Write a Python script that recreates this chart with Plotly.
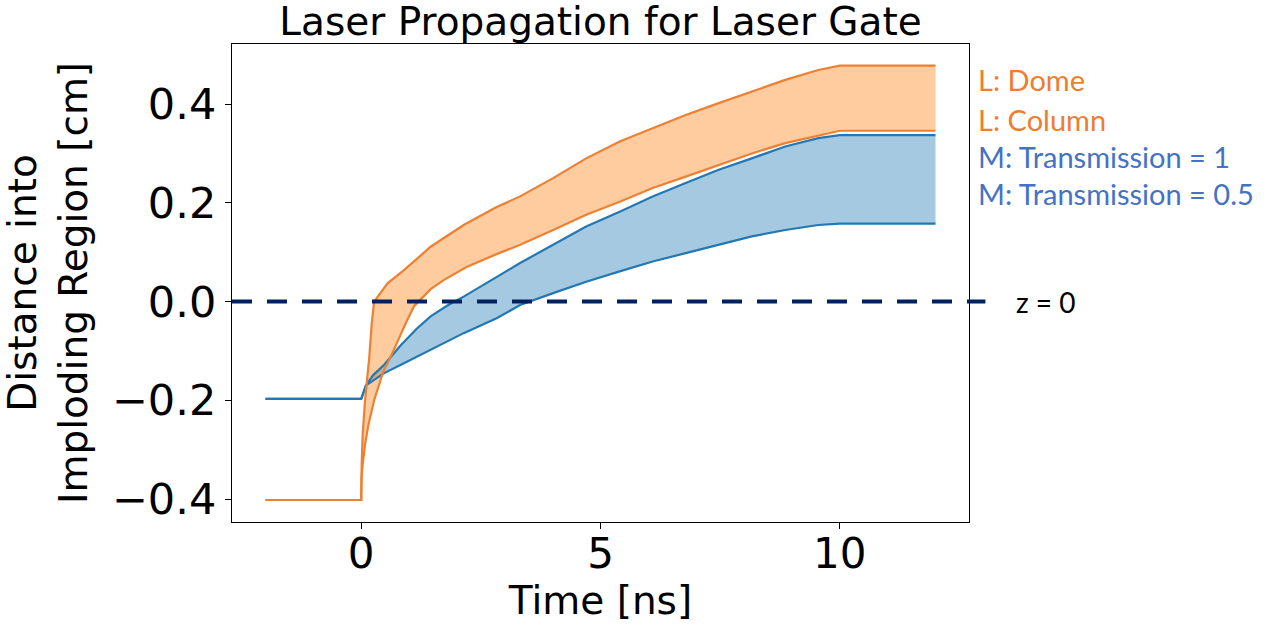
import numpy as np
import plotly.graph_objects as go

# ---- data ----
t_dome = [-2, 0, 0.01, 0.03, 0.08, 0.17, 0.22, 0.27, 0.55, 0.9, 1.45, 2.14, 2.8, 3.32,
          4.01, 4.70, 5.40, 6.09, 6.78, 7.47, 8.16, 8.86, 9.55, 10, 12]
y_dome = [-0.402, -0.402, -0.33, -0.27, -0.20, -0.111, -0.044, 0.0, 0.037, 0.064, 0.111,
          0.155, 0.19, 0.213, 0.250, 0.290, 0.324, 0.351, 0.378, 0.402, 0.425, 0.449,
          0.469, 0.478, 0.478]

t_col = [-2, 0, 0.005, 0.03, 0.08, 0.15, 0.27, 0.45, 0.62, 0.8, 0.93, 1.1, 1.2, 1.45,
         1.73, 2.2, 2.8, 3.32, 4.01, 4.70, 5.40, 6.09, 6.78, 7.47, 8.16, 8.86, 9.55, 10, 12]
y_col = [-0.402, -0.402, -0.36, -0.33, -0.29, -0.25, -0.20, -0.145, -0.111, -0.07, -0.044,
         -0.01, 0.0, 0.025, 0.044, 0.07, 0.095, 0.115, 0.145, 0.176, 0.202, 0.230, 0.253,
         0.277, 0.300, 0.321, 0.337, 0.346, 0.346]

t_m1 = [-2, 0, 0.1, 0.25, 0.48, 0.83, 1.17, 1.45, 1.8, 2.14, 2.8, 3.32, 4.01, 4.70,
        5.40, 6.09, 6.78, 7.47, 8.16, 8.86, 9.55, 10, 12]
y_m1 = [-0.197, -0.197, -0.170, -0.149, -0.128, -0.088, -0.054, -0.030, -0.008, 0.010,
        0.048, 0.078, 0.115, 0.152, 0.182, 0.213, 0.240, 0.267, 0.290, 0.314, 0.331,
        0.337, 0.337]

t_m05 = [-2, 0, 0.1, 0.48, 0.83, 1.17, 1.45, 2.14, 2.83, 3.32, 4.01, 4.70, 5.40, 6.09,
         6.78, 7.47, 8.16, 8.86, 9.55, 10, 12]
y_m05 = [-0.197, -0.197, -0.170, -0.145, -0.128, -0.111, -0.098, -0.064, -0.034, -0.007,
         0.017, 0.040, 0.061, 0.081, 0.098, 0.115, 0.132, 0.145, 0.155, 0.158, 0.158]

x_ticks = [0, 5, 10]
x_ticktext = ["0", "5", "10"]
y_ticks = [-0.4, -0.2, 0.0, 0.2, 0.4]
y_ticktext = ["\u22120.4", "\u22120.2", "0.0", "0.2", "0.4"]

labels = ["L: Dome", "L: Column", "M: Transmission = 1", "M: Transmission = 0.5"]
label_colors = ["#ED7D31", "#ED7D31", "#4472C4", "#4472C4"]

title_text = "Laser Propagation for Laser Gate"
x_title = "Time [ns]"
y_title = "Distance into<br>Imploding Region [cm]"

# ---- styling ----
ORANGE = "#ee8033"
BLUE = "#2378b3"
ORANGE_FILL = "rgba(255,127,14,0.4)"
BLUE_FILL = "rgba(31,119,180,0.4)"
FONT = "DejaVu Sans"

fig = go.Figure()

# blue band
fig.add_trace(go.Scatter(
    x=list(t_m1) + list(t_m05[::-1]), y=list(y_m1) + list(y_m05[::-1]),
    fill="toself", fillcolor=BLUE_FILL, line=dict(width=0), mode="lines",
    hoverinfo="skip", showlegend=False))
# orange band
fig.add_trace(go.Scatter(
    x=list(t_dome) + list(t_col[::-1]), y=list(y_dome) + list(y_col[::-1]),
    fill="toself", fillcolor=ORANGE_FILL, line=dict(width=0), mode="lines",
    hoverinfo="skip", showlegend=False))

for tx, ty, c in [(t_m1, y_m1, BLUE), (t_m05, y_m05, BLUE),
                  (t_dome, y_dome, ORANGE), (t_col, y_col, ORANGE)]:
    fig.add_trace(go.Scatter(x=tx, y=ty, mode="lines",
                             line=dict(color=c, width=2.2),
                             showlegend=False))

L, R, T, B = 232, 968.6, 44, 522.5
W, H = 1279, 634
ph = B - T
pw = R - L

fig.update_layout(
    width=W, height=H,
    margin=dict(l=L, r=W - R, t=T, b=H - B, pad=0),
    paper_bgcolor="white", plot_bgcolor="white",
    font=dict(family=FONT, color="black"),
    title=dict(text=title_text, x=0.5, xref="paper", xanchor="center",
               y=1 - 21 / H, yref="container", yanchor="middle",
               font=dict(size=39, family=FONT, color="black")),
    showlegend=False,
)

fig.update_xaxes(
    range=[-2.7, 12.7], tickvals=x_ticks, ticktext=x_ticktext,
    ticks="outside", ticklen=6, tickwidth=1.3, tickcolor="black",
    showline=True, linecolor="black", linewidth=1.3, mirror=True,
    showgrid=False, zeroline=False,
    tickfont=dict(size=42, family=FONT, color="black"),
    ticklabelstandoff=-12,
    title=dict(text=x_title, font=dict(size=39, family=FONT, color="black"), standoff=4),
)
fig.update_yaxes(
    range=[-0.4466, 0.5217], tickvals=y_ticks, ticktext=y_ticktext,
    ticks="outside", ticklen=6, tickwidth=1.3, tickcolor="black",
    showline=True, linecolor="black", linewidth=1.3, mirror=True,
    showgrid=False, zeroline=False,
    tickfont=dict(size=43, family=FONT, color="black"),
    ticklabelstandoff=0,
    title=dict(text=y_title, font=dict(size=39, family=FONT, color="black"), standoff=12),
)

# z = 0 dashed line, extending slightly past the axes
fig.add_shape(type="line", xref="paper", yref="y", x0=0, x1=(985 - L) / pw, y0=0, y1=0,
              line=dict(color="#002060", width=4, dash="20px,15px"), layer="above")

fig.add_annotation(text="z = 0", xref="paper", yref="y", x=(1014 - L) / pw, y=0,
                   xanchor="left", yanchor="middle", showarrow=False,
                   font=dict(family="Lato", size=28, color="black"))

label_y_px = [80, 120, 157, 194]
for txt, col, py in zip(labels, label_colors, label_y_px):
    fig.add_annotation(text=txt, xref="paper", yref="paper",
                       x=(976 - L) / pw, y=(B - py) / ph,
                       xanchor="left", yanchor="middle", showarrow=False,
                       font=dict(family="Lato", size=29, color=col))

fig.write_html("out.html", config={"displayModeBar": False},
               post_script="document.body.style.margin='0';")
